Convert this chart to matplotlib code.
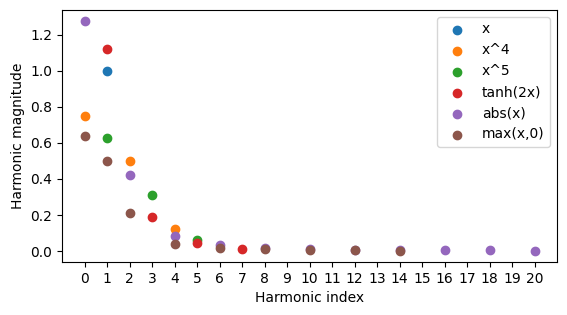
import matplotlib
matplotlib.use("Agg")
import matplotlib.pyplot as plt

# harmonic index -> magnitude
x_idx = [1]
x_mag = [1.0]

x4_idx = [0, 2, 4]
x4_mag = [0.75, 0.5, 0.125]

x5_idx = [1, 3, 5]
x5_mag = [0.625, 0.3125, 0.0625]

tanh_idx = [1, 3, 5, 7]
tanh_mag = [1.12, 0.187, 0.043, 0.011]

abs_idx = [0, 2, 4, 6, 8, 10, 12, 14, 16, 18, 20]
abs_mag = [1.273, 0.424, 0.085, 0.036, 0.020, 0.0129, 0.0089, 0.0065, 0.0050, 0.0039, 0.0032]

relu_idx = [0, 1, 2, 4, 6, 8, 10, 12, 14]
relu_mag = [0.637, 0.5, 0.212, 0.042, 0.018, 0.0101, 0.0064, 0.0045, 0.0033]

series = [
    ("x", x_idx, x_mag),
    ("x^4", x4_idx, x4_mag),
    ("x^5", x5_idx, x5_mag),
    ("tanh(2x)", tanh_idx, tanh_mag),
    ("abs(x)", abs_idx, abs_mag),
    ("max(x,0)", relu_idx, relu_mag),
]

fig = plt.figure(figsize=(5.67, 3.15), dpi=100)
ax = fig.add_axes([62 / 567, 53 / 315, 495 / 567, 252 / 315])

for label, idx, mag in series:
    ax.scatter(idx, mag, label=label)

ax.set_xticks(range(0, 21))
ax.set_xlabel("Harmonic index")
ax.set_ylabel("Harmonic magnitude")
ax.legend(loc="upper right")

fig.savefig("out.png", dpi=100)
